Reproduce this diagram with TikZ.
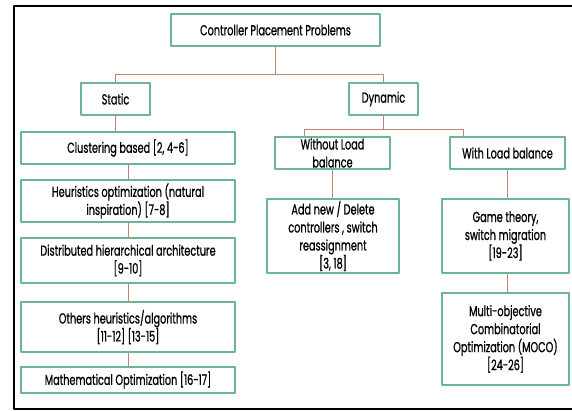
\documentclass[tikz,border=0pt]{standalone}
\usepackage{fontspec}
\setmainfont[FakeStretch=0.67,FakeBold=0.8]{Poppins}
\definecolor{boxgreen}{RGB}{108,180,150}
\definecolor{linkred}{RGB}{196,128,118}
\newcommand\boxfont{\fontsize{14.5}{18}\selectfont\lineskiplimit=-20pt\relax}
\begin{document}
\begin{tikzpicture}[x=1pt,y=-1pt,line join=round,font=\boxfont,
	box/.style={draw=boxgreen,line width=1.2pt,align=center,inner sep=1pt},
	link/.style={draw=linkred,line width=.7pt}]
	\useasboundingbox (0,0) rectangle (572,410);
	\draw[line width=2pt] (580,6)--(14,6)--(14,409)--(580,409);
	% root and the two branches
	\node[box,minimum width=209,minimum height=32] (cpp) at (275.5,30) {Controller Placement Problems};
	\node[box,minimum width=69,minimum height=32] (static) at (115.5,99) {Static};
	\node[box,minimum width=69,minimum height=32] (dynamic) at (383.5,99) {Dynamic};
	% static column
	\node[box,minimum width=214,minimum height=32] (clus) at (128,148) {Clustering based [2, 4-6]};
	\node[box,minimum width=214,minimum height=42] (heur) at (128,201) {Heuristics optimization (natural\\inspiration) [7-8]};
	\node[box,minimum width=214,minimum height=45] (dist) at (128,260.5) {Distributed hierarchical architecture\\{[9-10]}};
	\node[box,minimum width=214,minimum height=50] (others) at (128,327) {Others heuristics/algorithms\\{[11-12] [13-15]}};
	\node[box,minimum width=214,minimum height=26] (math) at (128,380) {Mathematical Optimization [16-17]};
	% dynamic columns
	\node[box,minimum width=115,minimum height=32] (noload) at (332.5,153) {Without Load\\balance};
	\node[box,minimum width=115,minimum height=32] (load) at (507.5,153) {With Load balance};
	\node[box,minimum width=132,minimum height=74] (addnew) at (333,236) {Add new / Delete\\controllers , switch\\reassignment\\{[3, 18]}};
	\node[box,minimum width=127,minimum height=74] (game) at (505.5,236) {Game theory,\\switch migration\\{[19-23]}};
	\node[box,minimum width=127,minimum height=92] (moco) at (505.5,339) {Multi-objective\\Combinatorial\\Optimization (MOCO)\\{[24-26]}};
	% links
	\draw[link] (cpp.south)--++(0,28) coordinate (j1);
	\draw[link] (static.north) |- (j1) -| (dynamic.north);
	\draw[link] (static.south)--(clus.north-|static);
	\foreach \a/\b in {clus/heur,heur/dist,dist/others,others/math}\draw[link] (\a.south)--(\b.north);
	\draw[link] (dynamic.south)--++(0,14) coordinate (j2);
	\draw[link] ([xshift=-28.5]noload.north) |- (j2) -| ([xshift=-44.5]load.north);
	\draw[link] (noload.south)--(noload.south|-addnew.north);
	\draw[link] (load.south)--(load.south|-game.north);
	\draw[link] (game.south-|load)--(moco.north-|load);
\end{tikzpicture}
\end{document}
